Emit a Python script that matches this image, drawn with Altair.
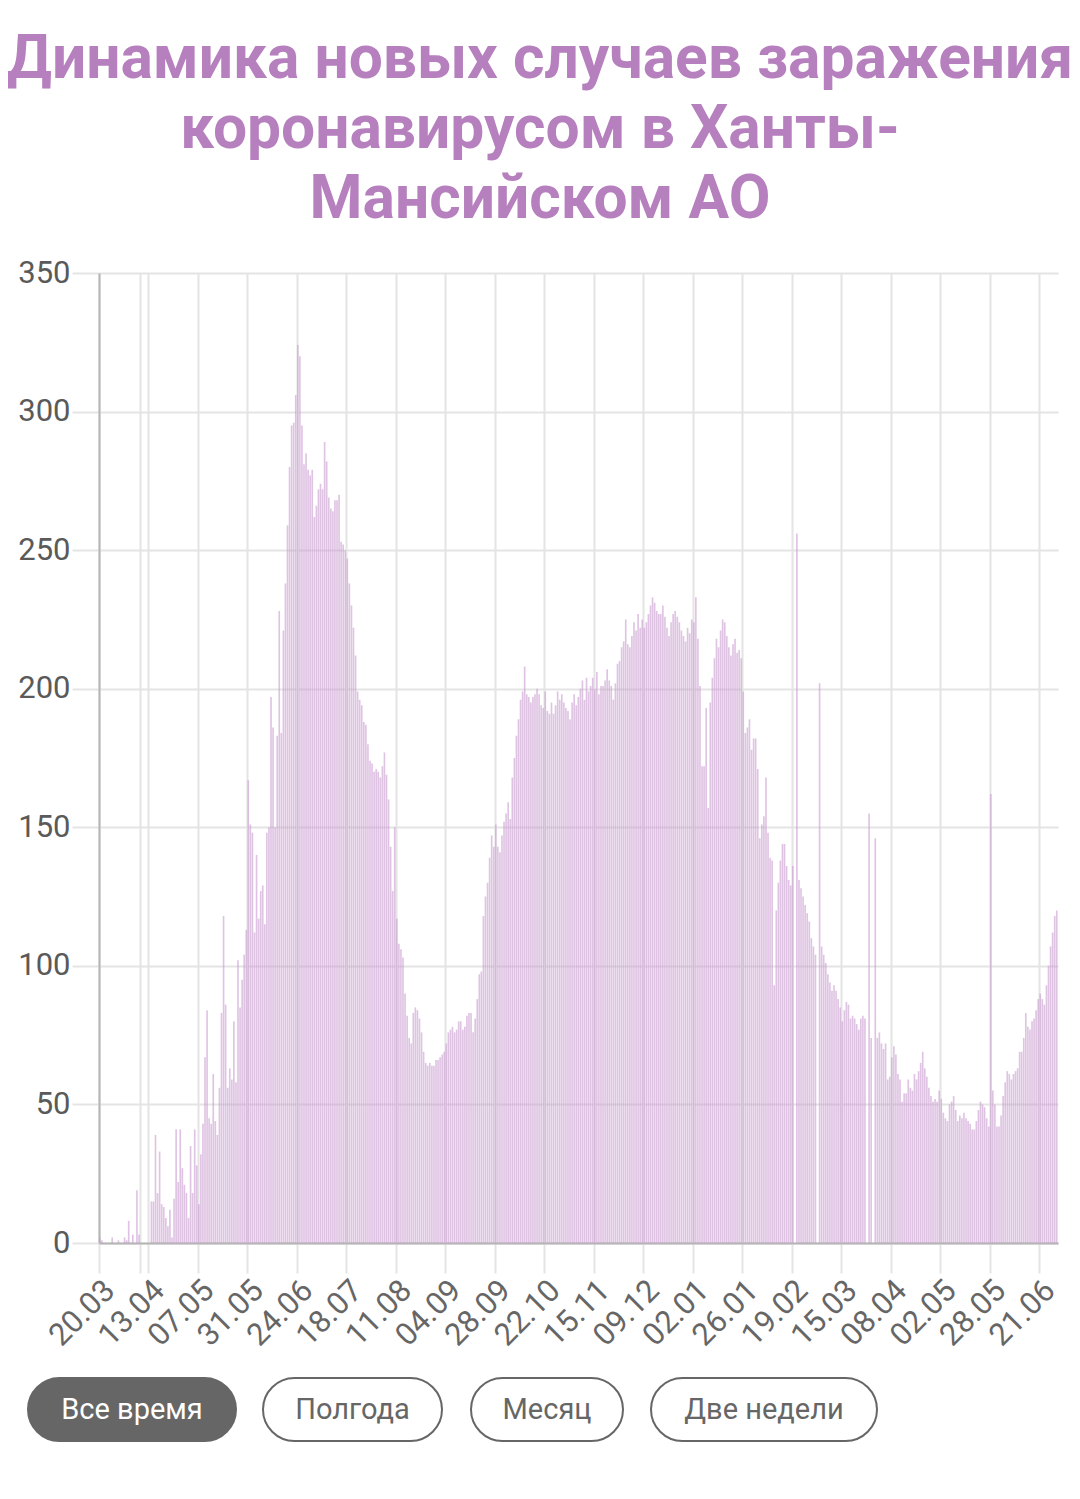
import altair as alt
import pandas as pd

# Daily new cases, grouped by the 24-day periods between x-axis ticks
p_2003 = [2,1,0,0,0,0,2,0,0,1,0,0,2,1,8,0,3,0,19,3,0,0,0,0]
p_1304 = [0,15,15,39,18,33,14,13,9,6,12,2,16,41,22,41,27,21,18,9,35,18,41,28]
p_0705 = [14,32,43,67,84,45,43,61,44,39,56,83,118,86,56,63,59,80,58,102,85,95,104,113]
p_3105 = [167,151,148,112,140,117,127,129,115,148,150,197,186,150,183,228,184,221,238,259,280,295,296,306]
p_2406 = [324,320,295,281,285,279,277,279,262,266,272,274,272,289,282,269,265,264,268,268,270,253,252,250]
p_1807 = [247,238,230,222,212,199,196,194,188,187,180,174,173,170,171,170,168,172,177,169,160,143,127,150]
p_1108 = [117,108,106,103,90,82,74,72,83,85,84,81,76,69,65,64,65,64,64,66,66,67,68,69]
p_0409 = [72,76,77,78,76,77,80,80,77,78,82,83,83,76,81,88,97,98,118,125,130,139,147,143]
p_2809 = [151,143,141,147,152,155,159,153,168,175,183,189,196,199,208,198,197,195,197,198,200,198,194,193]
p_2210 = [199,192,191,195,191,194,199,196,198,195,193,192,189,195,198,194,197,200,203,196,204,199,201,204]
p_1511 = [200,206,198,201,201,203,207,203,201,196,202,209,210,215,217,225,216,215,219,224,221,227,222,225]
p_0912 = [222,224,227,230,233,231,228,227,227,230,226,222,219,224,227,228,226,224,221,219,217,222,220,225]
p_0201 = [224,233,218,201,172,172,193,157,195,204,211,218,215,221,225,224,219,215,212,216,218,213,214,211]
p_2601 = [199,184,186,189,178,182,182,171,146,151,154,168,148,139,138,93,120,130,138,144,144,136,131,129]
p_1902 = [136,0,256,131,128,125,122,119,116,110,107,104,0,202,107,104,101,97,94,91,93,91,88,85]
p_1503 = [80,84,87,86,81,82,81,79,77,81,82,81,0,155,74,0,146,74,76,72,70,72,59,60]
p_0804 = [67,71,68,61,59,51,54,54,59,56,55,61,59,62,65,69,63,60,56,53,51,52,51,55]
p_0205 = [52,47,45,44,50,51,53,48,44,46,45,47,45,44,43,41,41,44,48,51,50,49,45,42]
p_2805 = [162,55,50,42,42,46,53,58,62,61,59,61,62,63,69,69,74,83,78,77,80,81,84,88]
p_2106 = [90,88,86,93,100,107,112,118,120]

tick_labels = ["20.03","13.04","07.05","31.05","24.06","18.07","11.08","04.09","28.09",
               "22.10","15.11","09.12","02.01","26.01","19.02","15.03","08.04","02.05",
               "28.05","21.06"]
y_ticks = [0, 50, 100, 150, 200, 250, 300, 350]

title_lines = ["Динамика новых случаев заражения", "коронавирусом в Ханты-", "Мансийском АО"]
buttons = ["Все время", "Полгода", "Месяц", "Две недели"]

periods = [p_2003,p_1304,p_0705,p_3105,p_2406,p_1807,p_1108,p_0409,p_2809,p_2210,
           p_1511,p_0912,p_0201,p_2601,p_1902,p_1503,p_0804,p_0205,p_2805,p_2106]
values = [v for p in periods for v in p]
N = len(values)
df = pd.DataFrame({"i": list(range(N)), "cases": values})

tick_vals = [24 * k for k in range(len(tick_labels))] + [20]
lab_js = "[" + ",".join("'" + t + "'" for t in tick_labels) + "]"
label_expr = f"datum.value % 24 == 0 ? {lab_js}[datum.value / 24] : ''"

PURPLE = "#b67fbd"
GRID = "#e4e4e4"
FONT = "Roboto"

bars = alt.Chart(df).transform_calculate(
    i2="datum.i + 0.8"
).mark_bar(color="#c99bd1", opacity=0.6).encode(
    x=alt.X("i:Q",
            scale=alt.Scale(domain=[0, N], nice=False, zero=False),
            axis=alt.Axis(values=tick_vals, labelExpr=label_expr, title=None,
                          labelAngle=-45, labelFontSize=31, labelFont=FONT,
                          labelColor="#666666", labelPadding=2,
                          grid=True, gridColor=GRID, gridWidth=2,
                          tickColor=GRID, tickWidth=2, tickSize=30,
                          domainColor="#b5b5b5", domainWidth=2,
                          labelOverlap=False, labelBound=False, labelFlush=False)),
    x2="i2:Q",
    y=alt.Y("cases:Q",
            scale=alt.Scale(domain=[0, 350], nice=False),
            axis=alt.Axis(values=y_ticks, title=None, labelFontSize=31, labelFont=FONT,
                          labelColor="#5a5a5a", labelPadding=2,
                          grid=True, gridColor=GRID, gridWidth=2,
                          tickColor=GRID, tickWidth=2, tickSize=27,
                          domainColor="#b5b5b5", domainWidth=2)),
    y2=alt.datum(0),
)

layers = [bars]

# Title lines
title_base = [-195, -125, -55]
for line, yb in zip(title_lines, title_base):
    layers.append(
        alt.Chart(pd.DataFrame({"t": [line]})).mark_text(
            font=FONT, fontSize=60.5, fontWeight="bold", color=PURPLE,
            align="center", baseline="alphabetic"
        ).encode(text="t:N", x=alt.value(441), y=alt.value(yb))
    )

# Buttons (period selector)
btn_x = [(-71, 137), (164, 343), (372, 524), (552, 778)]
for k, (lbl, (x0, x1)) in enumerate(zip(buttons, btn_x)):
    bdf = pd.DataFrame({"t": [lbl]})
    active = k == 0
    layers.append(
        alt.Chart(bdf).mark_rect(
            cornerRadius=32,
            fill="#666666" if active else "white",
            stroke="#666666", strokeWidth=2
        ).encode(x=alt.value(x0), x2=alt.value(x1),
                 y=alt.value(1105), y2=alt.value(1168))
    )
    layers.append(
        alt.Chart(bdf).mark_text(
            font=FONT, fontSize=29, color="white" if active else "#666666",
            align="center", baseline="middle"
        ).encode(text="t:N", x=alt.value((x0 + x1) / 2), y=alt.value(1137))
    )

chart = alt.layer(*layers).properties(
    width=959, height=970,
    autosize=alt.AutoSizeParams(type="none"),
    padding={"left": 91, "top": 265, "right": 14, "bottom": 230},
).configure_view(stroke=None)

chart.save("out.html", embed_options={"renderer": "svg", "actions": False})
